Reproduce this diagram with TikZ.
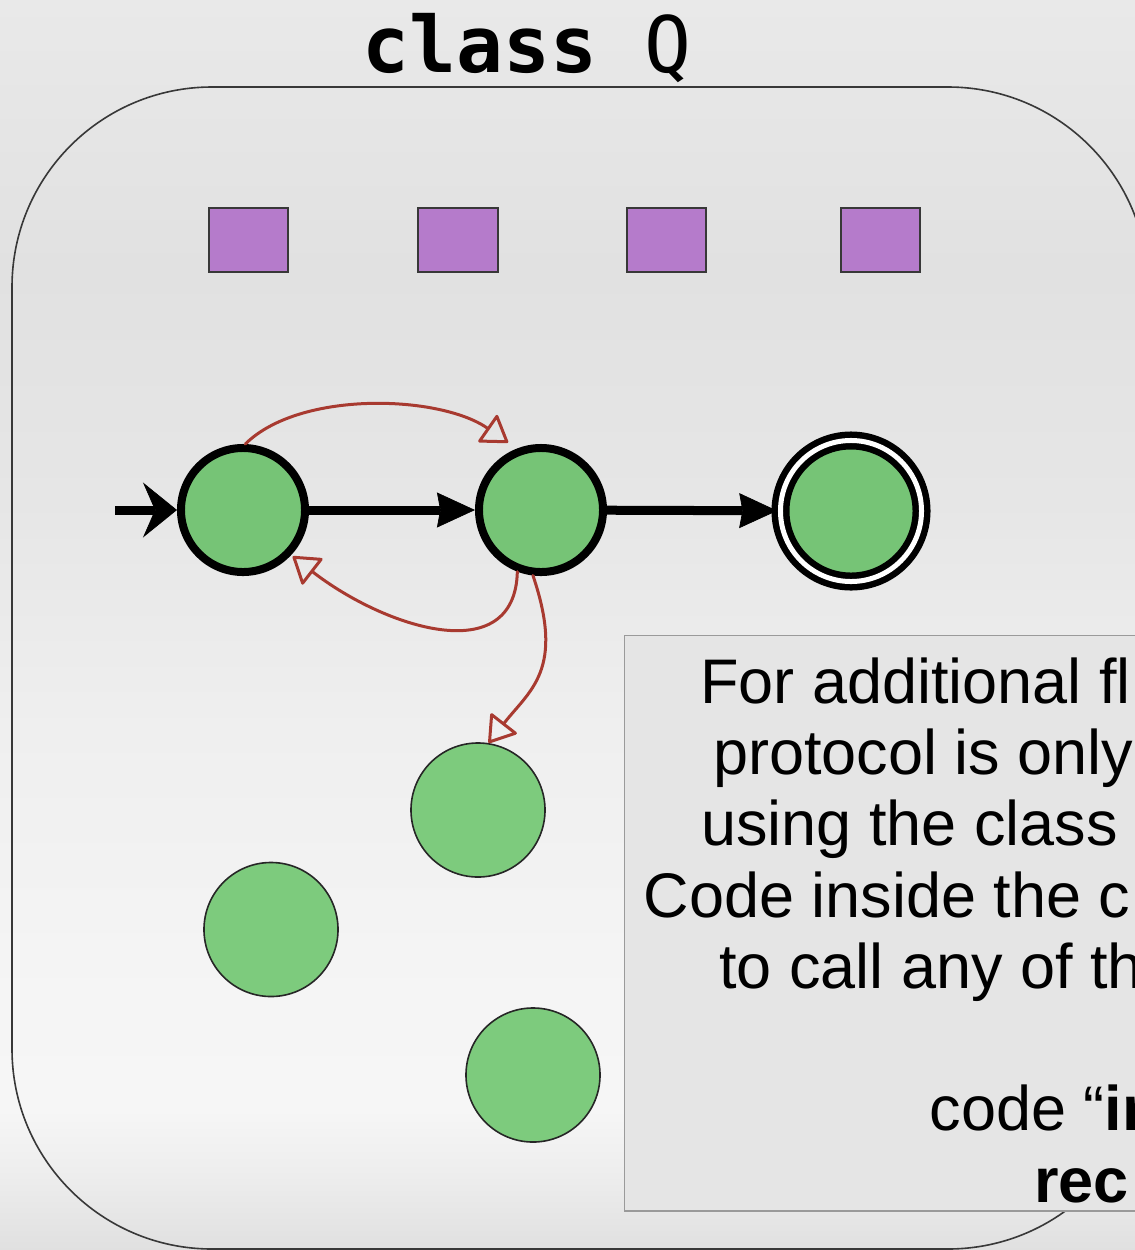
\documentclass[tikz,border=0pt]{standalone}
\usepackage{fontspec}
\setmainfont{Liberation Sans}
\newfontfamily\codefont{DejaVu Sans Mono}
\usetikzlibrary{arrows.meta,calc}

% palette
\definecolor{stategreen}{HTML}{76C476}
\definecolor{loosegreen}{HTML}{7DCB7D}
\definecolor{slotpurple}{HTML}{B57BCB}
\definecolor{callred}{HTML}{A83A30}
\definecolor{notefill}{HTML}{E5E5E5}
\definecolor{noteedge}{HTML}{9A9A9A}
\definecolor{frameedge}{HTML}{383838}
% slide background, top to bottom
\definecolor{bgA}{HTML}{E9E9E9}
\definecolor{bgB}{HTML}{E1E1E1}
\definecolor{bgC}{HTML}{E6E6E6}
\definecolor{bgD}{HTML}{EFEFEF}
\definecolor{bgE}{HTML}{F5F5F5}
\definecolor{bgF}{HTML}{F6F6F6}
\definecolor{bgG}{HTML}{EEEEEE}
\definecolor{bgH}{HTML}{E0E0E0}
\pgfdeclareverticalshading{slidebg}{100bp}{color(0bp)=(bgH); color(25bp)=(bgH);
  color(28.2bp)=(bgG); color(30.6bp)=(bgF); color(35bp)=(bgE); color(45.8bp)=(bgD);
  color(55bp)=(bgC); color(64.2bp)=(bgB); color(75bp)=(bgA); color(100bp)=(bgA)}

\begin{document}
\begin{tikzpicture}[x=0.025cm, y=0.025cm,
  slotbox/.style={rectangle, draw=frameedge, line width=0.05cm, fill=slotpurple,
    minimum width=1.975cm, minimum height=1.575cm, inner sep=0pt},
  statenode/.style={circle, draw=black, line width=0.2cm, fill=stategreen,
    minimum size=3.1cm, inner sep=0pt},
  acceptnode/.style={circle, draw=black, line width=0.1625cm, double=white,
    double distance=0.125cm, fill=stategreen, minimum size=3.525cm, inner sep=0pt},
  loosenode/.style={circle, draw=black!85, line width=0.04cm, fill=loosegreen,
    minimum size=3.35cm, inner sep=0pt},
  moveedge/.style={draw=black, line width=0.225cm,
    -{Stealth[length=0.95cm, width=0.875cm, inset=0.08cm, line width=0.5pt]}},
  calledge/.style={draw=callred, line width=0.075cm, line cap=round, line join=round,
    -{Triangle[open, length=0.675cm, width=0.875cm, round]}},
  notebox/.style={rectangle, draw=noteedge, line width=0.035cm, fill=notefill, inner sep=0pt},
  noteline/.style={anchor=base west, inner sep=0pt, font=\fontsize{44.8}{53}\selectfont},
]
\useasboundingbox (0,-1250) rectangle (1135,0);
\clip (0,-1250) rectangle (1135,0);
\shade[shading=slidebg] (0,-1250) rectangle (1135,0);

% class outline
\draw[frameedge, line width=0.04cm, rounded corners=5cm] (12,-87) rectangle (1148,-1249);

% title
\node[anchor=base, inner sep=0pt, font=\codefont\fontsize{55.4}{60}\selectfont]
  (title) at (527,-72) {\textbf{class} Q};

% fields
\node[slotbox] (m1) at (248.5,-240) {};
\node[slotbox] (m2) at (458,-240) {};
\node[slotbox] (m3) at (666.5,-240) {};
\node[slotbox] (m4) at (880.5,-240) {};

% protocol states
\node[statenode] (s1) at (243,-510) {};
\node[statenode] (s2) at (541,-510) {};
\node[acceptnode] (s3) at (851,-511) {};

% other methods
\node[loosenode] (s4) at (478,-810) {};
\node[loosenode] (s5) at (271,-929.5) {};
\node[loosenode] (s6) at (533,-1075) {};

% protocol transitions
\coordinate (entry) at (115,-510);
\draw[draw=black, line width=0.225cm,
  -{Stealth[length=0.85cm, width=1.375cm, inset=0.3cm, line width=0.5pt]}] (entry) -- (s1);
\draw[moveedge] (s1) -- (s2);
\draw[moveedge] (s2) -- (s3);

% internal calls
\draw[calledge] (s1.88) .. controls (300,-390) and (440,-395) .. ($(s2)+(116:75)$);
\draw[calledge] (s2.249) .. controls (515,-670) and (385,-628) .. ($(s1)+(-43:68)$);
\draw[calledge] (s2.263) .. controls (565,-670) and (530,-690) .. (s4.81);

% explanation box
\node[notebox, anchor=north west, minimum width=13.4cm, minimum height=14.375cm]
  (note) at (624,-635) {};
\node[noteline] (t1) at (700,-703) {For additional fl};
\node[noteline] (t2) at (713,-774.3) {protocol is only};
\node[noteline] (t3) at (701,-845.6) {using the class};
\node[noteline] (t4) at (643.5,-917) {Code inside the c};
\node[noteline] (t5) at (719,-988.2) {to call any of th};
\node[noteline] (t7) at (929.5,-1130.8) {code “\textbf{in}};
\node[noteline] (t8) at (1034,-1202) {\textbf{rec}};
\end{tikzpicture}
\end{document}
